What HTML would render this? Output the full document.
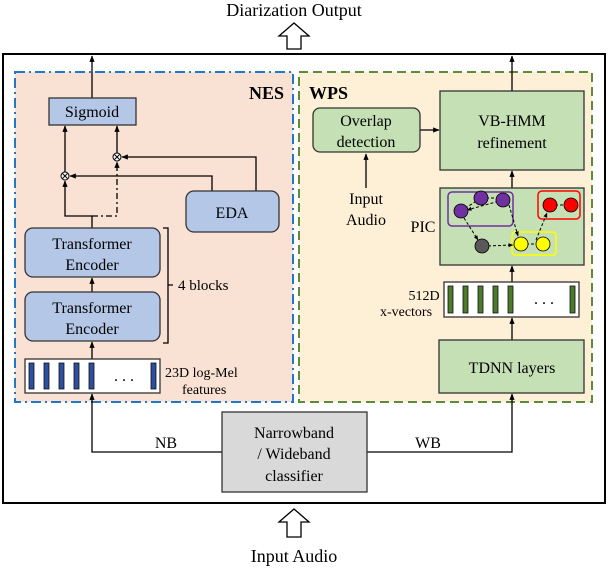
<!DOCTYPE html>
<html><head><style>body{margin:0;background:#fff}svg{display:block}text{font-family:"Liberation Serif",serif;fill:#000}</style></head>
<body>
<svg width="608" height="568" viewBox="0 0 608 568" xmlns="http://www.w3.org/2000/svg">
<defs><marker id="a" viewBox="0 0 10 10" refX="9" refY="5" markerWidth="5" markerHeight="5" orient="auto"><path d="M0,1 L10,5 L0,9 z" fill="#000"/></marker></defs>
<text x="294" y="16" font-size="18" text-anchor="middle">Diarization Output</text>
<path d="M287,49 V36 H279 L294,23 L309,36 H301 V49 Z" fill="#fff" stroke="#000" stroke-width="1.3"/>
<rect x="3" y="54" width="602" height="449" fill="#fff" stroke="#000" stroke-width="2"/>
<rect x="15" y="72" width="278" height="330" fill="#f9e1d3" stroke="#1f78c8" stroke-width="2" stroke-dasharray="10,4,2,4"/>
<rect x="299" y="72" width="293" height="330" fill="#fdf0d6" stroke="#5e8b3b" stroke-width="2" stroke-dasharray="9,5"/>
<text x="284" y="99" font-size="18" font-weight="bold" text-anchor="end">NES</text>
<text x="309" y="99" font-size="18" font-weight="bold">WPS</text>
<g stroke="#000" stroke-width="1.3" fill="none">
<line x1="92" y1="98" x2="92" y2="56" marker-end="url(#a)"/>
<line x1="512" y1="91" x2="512" y2="56" marker-end="url(#a)"/>
<line x1="65" y1="172" x2="65" y2="126" marker-end="url(#a)"/>
<line x1="117" y1="153" x2="117" y2="126" marker-end="url(#a)"/>
<path d="M92,228 V216 H65 V181" marker-end="url(#a)"/>
<path d="M92,216 H117 V162" stroke-dasharray="6,3,2,3" marker-end="url(#a)"/>
<path d="M212,191 V176 H70" marker-end="url(#a)"/>
<path d="M256,191 V157 H122" marker-end="url(#a)"/>
<line x1="92" y1="292" x2="92" y2="278" marker-end="url(#a)"/>
<line x1="92" y1="359" x2="92" y2="342" marker-end="url(#a)"/>
<path d="M163,228 H168 V343 H163 M168,285 H173"/>
<line x1="420" y1="130" x2="439" y2="130" marker-end="url(#a)"/>
<line x1="366" y1="188" x2="366" y2="154" marker-end="url(#a)"/>
<line x1="512" y1="188" x2="512" y2="171" marker-end="url(#a)"/>
<line x1="512" y1="282" x2="512" y2="266" marker-end="url(#a)"/>
<line x1="512" y1="340" x2="512" y2="318" marker-end="url(#a)"/>
<path d="M222,452 H92 V394" marker-end="url(#a)"/>
<path d="M367,452 H512 V394" marker-end="url(#a)"/>
</g>
<g stroke="#000" stroke-width="1">
<circle cx="65" cy="176" r="4" fill="#fff"/><path d="M62.5,173.5 l5,5 M67.5,173.5 l-5,5"/>
<circle cx="117" cy="157" r="4" fill="#fff"/><path d="M114.5,154.5 l5,5 M119.5,154.5 l-5,5"/>
</g>
<g stroke="#333" stroke-width="1.3">
<rect x="49" y="98" width="87" height="27" fill="#b4c7e7"/>
<rect x="186" y="191" width="93" height="41" rx="8" fill="#b4c7e7"/>
<rect x="25" y="228" width="135" height="49" rx="8" fill="#b4c7e7"/>
<rect x="25" y="292" width="135" height="49" rx="8" fill="#b4c7e7"/>
<rect x="25" y="359" width="135" height="34" fill="#fff"/>
<rect x="313" y="108" width="107" height="44" rx="7" fill="#c5e0b4"/>
<rect x="440" y="91" width="144" height="79" fill="#c5e0b4"/>
<rect x="440" y="188" width="144" height="77" fill="#c5e0b4"/>
<rect x="444" y="282" width="135" height="35" fill="#fff"/>
<rect x="439" y="340" width="145" height="53" fill="#c5e0b4"/>
<rect x="222" y="412" width="145" height="80" fill="#d9d9d9"/>
</g>
<g fill="#2e4fa0" stroke="#111" stroke-width="0.8">
<rect x="29" y="363" width="5" height="26"/><rect x="44" y="363" width="5" height="26"/><rect x="59" y="363" width="5" height="26"/><rect x="74" y="363" width="5" height="26"/><rect x="89" y="363" width="5" height="26"/><rect x="151" y="363" width="5" height="26"/>
</g>
<g fill="#4e7a2c" stroke="#111" stroke-width="0.8">
<rect x="448" y="286" width="5" height="27"/><rect x="463" y="286" width="5" height="27"/><rect x="478" y="286" width="5" height="27"/><rect x="493" y="286" width="5" height="27"/><rect x="508" y="286" width="5" height="27"/><rect x="570" y="286" width="5" height="27"/>
</g>
<text x="124" y="381" font-size="16" text-anchor="middle">. . .</text>
<text x="544" y="304" font-size="16" text-anchor="middle">. . .</text>
<g font-size="16" text-anchor="middle">
<text x="92" y="117">Sigmoid</text>
<text x="232" y="218">EDA</text>
<text x="92" y="249">Transformer</text><text x="92" y="270">Encoder</text>
<text x="92" y="313">Transformer</text><text x="92" y="334">Encoder</text>
<text x="366" y="126">Overlap</text><text x="366" y="147">detection</text>
<text x="512" y="126">VB-HMM</text><text x="512" y="148">refinement</text>
<text x="366" y="204">Input</text><text x="366" y="225">Audio</text>
<text x="512" y="373">TDNN layers</text>
<text x="294" y="438">Narrowband</text><text x="294" y="459">/ Wideband</text><text x="294" y="481">classifier</text>
<text x="166" y="448">NB</text><text x="428" y="448">WB</text>
</g>
<text x="178" y="290" font-size="15">4 blocks</text>
<text x="165" y="377" font-size="14">23D log-Mel</text>
<text x="182" y="394" font-size="14">features</text>
<text x="424" y="300" font-size="14" text-anchor="middle">512D</text>
<text x="406" y="316" font-size="14" text-anchor="middle">x-vectors</text>
<text x="423" y="232" font-size="16" text-anchor="middle">PIC</text>
<rect x="448" y="192" width="65" height="34" rx="4" fill="none" stroke="#7030a0" stroke-width="1.5"/>
<rect x="512" y="232" width="44" height="23" rx="3" fill="none" stroke="#ffff00" stroke-width="1.5"/>
<rect x="538" y="191" width="42" height="28" rx="4" fill="none" stroke="#ff0000" stroke-width="1.5"/>
<g stroke="#000" stroke-width="1" fill="none" stroke-dasharray="3,2">
<path d="M461,211 L481,198 M481,198 H503 M550,205 H571 M521,244 H543"/>
<path d="M503,200 L467,210" marker-end="url(#a)"/>
<path d="M509,205 L518,236" marker-end="url(#a)"/>
<path d="M464,218 L478,240" marker-end="url(#a)"/>
<path d="M488,246 L513,245" marker-end="url(#a)"/>
<path d="M536,240 L547,213" marker-end="url(#a)"/>
</g>
<g stroke="#000" stroke-width="0.8">
<circle cx="461" cy="211" r="7" fill="#7030a0"/><circle cx="481" cy="198" r="7" fill="#7030a0"/><circle cx="503" cy="200" r="7" fill="#7030a0"/>
<circle cx="482" cy="246" r="7" fill="#595959"/>
<circle cx="521" cy="244" r="7" fill="#ffff00"/><circle cx="543" cy="244" r="7" fill="#ffff00"/>
<circle cx="550" cy="205" r="7" fill="#ff0000"/><circle cx="571" cy="205" r="7" fill="#ff0000"/>
</g>
<path d="M287,537 V522 H279 L294,509 L309,522 H301 V537 Z" fill="#fff" stroke="#000" stroke-width="1.3"/>
<text x="294" y="562" font-size="18" text-anchor="middle">Input Audio</text>
</svg>
</body></html>
